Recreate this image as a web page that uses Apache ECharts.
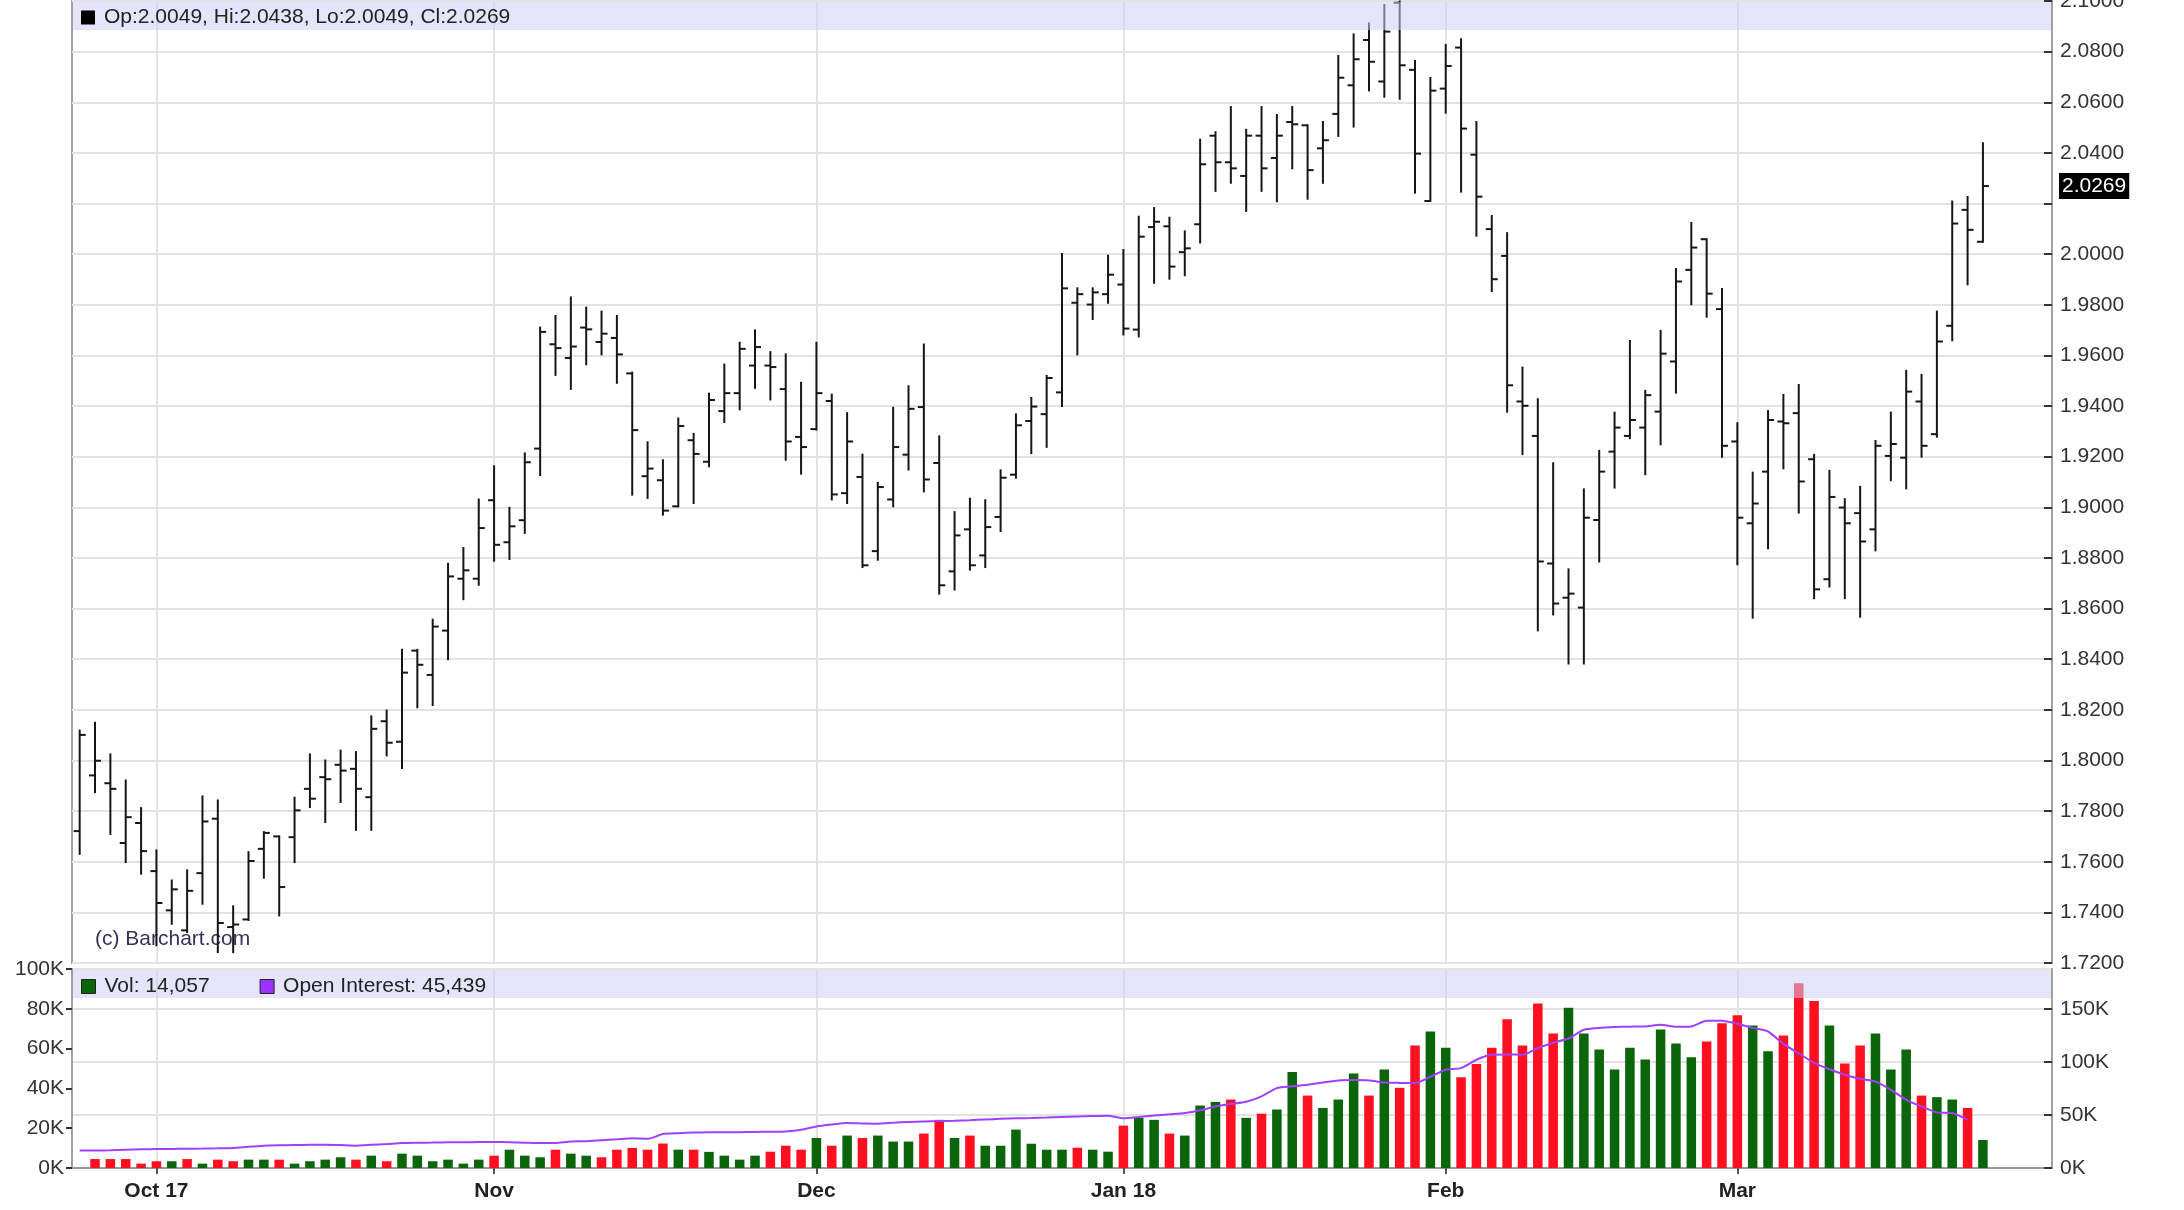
<!DOCTYPE html>
<html>
<head>
<meta charset="utf-8">
<script src="https://cdn.jsdelivr.net/npm/echarts/dist/echarts.min.js"></script>
<style>
html,body{margin:0;padding:0;background:#fff;}
#chart{width:2184px;height:1210px;}
</style>
</head>
<body>
<div id="chart"></div>
<script>
const dates = [
'2017-09-25','2017-09-26','2017-09-27','2017-09-28','2017-09-29',
'2017-10-02','2017-10-03','2017-10-04','2017-10-05','2017-10-06','2017-10-09','2017-10-10','2017-10-11','2017-10-12','2017-10-13',
'2017-10-16','2017-10-17','2017-10-18','2017-10-19','2017-10-20','2017-10-23','2017-10-24','2017-10-25','2017-10-26','2017-10-27','2017-10-30','2017-10-31',
'2017-11-01','2017-11-02','2017-11-03','2017-11-06','2017-11-07','2017-11-08','2017-11-09','2017-11-10','2017-11-13','2017-11-14','2017-11-15',
'2017-11-16','2017-11-17','2017-11-20','2017-11-21','2017-11-22','2017-11-24','2017-11-27','2017-11-28','2017-11-29','2017-11-30',
'2017-12-01','2017-12-04','2017-12-05','2017-12-06','2017-12-07','2017-12-08','2017-12-11','2017-12-12','2017-12-13','2017-12-14','2017-12-15',
'2017-12-18','2017-12-19','2017-12-20','2017-12-21','2017-12-22','2017-12-26','2017-12-27','2017-12-28','2017-12-29',
'2018-01-02','2018-01-03','2018-01-04','2018-01-05','2018-01-08','2018-01-09','2018-01-10','2018-01-11','2018-01-12','2018-01-16','2018-01-17',
'2018-01-18','2018-01-19','2018-01-22','2018-01-23','2018-01-24','2018-01-25','2018-01-26','2018-01-29','2018-01-30','2018-01-31',
'2018-02-01','2018-02-02','2018-02-05','2018-02-06','2018-02-07','2018-02-08','2018-02-09','2018-02-12','2018-02-13','2018-02-14','2018-02-15',
'2018-02-16','2018-02-20','2018-02-21','2018-02-22','2018-02-23','2018-02-26','2018-02-27','2018-02-28',
'2018-03-01','2018-03-02','2018-03-05','2018-03-06','2018-03-07','2018-03-08','2018-03-09','2018-03-12','2018-03-13','2018-03-14','2018-03-15',
'2018-03-16','2018-03-19','2018-03-20','2018-03-21','2018-03-22','2018-03-23',
'2018-03-26','2018-03-27','2018-03-28','2018-03-29'
];

const tickDates  = ['2017-10-02','2017-11-01','2017-12-01','2018-01-02','2018-02-01','2018-03-01'];
const tickLabels = ['Oct 17','Nov','Dec','Jan 18','Feb','Mar'];

const open = [
1.7721,1.7941,1.7910,1.7674,1.7753,1.7563,1.7408,1.7329,1.7555,1.7770,
1.7342,1.7372,1.7651,1.7700,1.7697,1.7888,1.7934,1.7983,1.7967,1.7855,
1.8155,1.8074,1.8434,1.8338,1.8513,1.8718,1.8718,1.9028,1.8862,1.8949,
1.9232,1.9644,1.9590,1.9710,1.9653,1.9669,1.9529,1.9123,1.9107,1.9004,
1.9265,1.9180,1.9380,1.9451,1.9560,1.9560,1.9467,1.9278,1.9309,1.9420,
1.9056,1.9120,1.8827,1.9031,1.9208,1.9396,1.9175,1.8747,1.8913,1.8810,
1.8962,1.9129,1.9341,1.9368,1.9454,1.9808,1.9801,1.9842,1.9880,1.9702,
2.0107,2.0110,2.0008,2.0118,2.0468,2.0363,2.0309,2.0468,2.0380,2.0522,
2.0509,2.0418,2.0554,2.0667,2.0846,2.0682,2.0993,2.0728,2.0210,2.0654,
2.0816,2.0393,2.0099,1.9993,1.9418,1.9282,1.8778,1.8643,1.8604,1.8950,
1.9220,1.9282,1.9315,1.9378,1.9576,1.9938,2.0059,1.9783,1.9260,1.8937,
1.9141,1.9339,1.9372,1.9190,1.8716,1.8999,1.8977,1.8913,1.9203,1.9196,
1.9418,1.9289,1.9717,2.0175,2.0049
];
const high = [
1.8118,1.8149,1.8024,1.7921,1.7812,1.7645,1.7526,1.7566,1.7858,1.7842,
1.7424,1.7638,1.7717,1.7700,1.7853,1.8024,1.8000,1.8039,1.8033,1.8174,
1.8197,1.8437,1.8437,1.8556,1.8777,1.8839,1.9031,1.9162,1.8998,1.9213,
1.9710,1.9756,1.9829,1.9789,1.9773,1.9756,1.9532,1.9257,1.9186,1.9351,
1.9290,1.9449,1.9564,1.9650,1.9699,1.9613,1.9604,1.9492,1.9650,1.9445,
1.9372,1.9208,1.9097,1.9393,1.9478,1.9643,1.9280,1.8981,1.9034,1.9028,
1.9146,1.9367,1.9432,1.9519,2.0001,1.9865,1.9865,1.9994,2.0016,2.0148,
2.0182,2.0144,2.0090,2.0452,2.0482,2.0581,2.0491,2.0581,2.0550,2.0581,
2.0509,2.0522,2.0783,2.0868,2.0911,2.0984,2.0998,2.0763,2.0696,2.0826,
2.0849,2.0522,2.0151,2.0083,1.9552,1.9427,1.9174,1.8755,1.9071,1.9223,
1.9374,1.9657,1.9460,1.9697,1.9941,2.0123,2.0059,1.9862,1.9332,1.9137,
1.9380,1.9444,1.9483,1.9207,1.9144,1.9032,1.9081,1.9262,1.9374,1.9539,
1.9523,1.9773,2.0208,2.0226,2.0438
];
const low = [
1.7631,1.7875,1.7710,1.7599,1.7553,1.7270,1.7355,1.7322,1.7434,1.7243,
1.7243,1.7370,1.7537,1.7388,1.7599,1.7816,1.7757,1.7836,1.7726,1.7726,
1.8020,1.7970,1.8210,1.8219,1.8400,1.8637,1.8694,1.8789,1.8796,1.8899,
1.9127,1.9523,1.9468,1.9565,1.9604,1.9492,1.9050,1.9037,1.8971,1.9004,
1.9017,1.9162,1.9337,1.9387,1.9472,1.9426,1.9188,1.9133,1.9307,1.9031,
1.9017,1.8764,1.8793,1.9004,1.9149,1.9063,1.8659,1.8675,1.8754,1.8764,
1.8906,1.9117,1.9214,1.9239,1.9400,1.9604,1.9744,1.9808,1.9683,1.9675,
1.9887,1.9903,1.9917,2.0046,2.0250,2.0282,2.0171,2.0250,2.0209,2.0339,
2.0219,2.0282,2.0467,2.0504,2.0647,2.0622,2.0614,2.0243,2.0210,2.0559,
2.0247,2.0073,1.9854,1.9378,1.9210,1.8514,1.8577,1.8383,1.8383,1.8786,
1.9078,1.9273,1.9131,1.9249,1.9453,1.9802,1.9753,1.9200,1.8775,1.8564,
1.8838,1.9154,1.8979,1.8641,1.8687,1.8641,1.8568,1.8830,1.9107,1.9075,
1.9200,1.9279,1.9660,1.9881,2.0049
];
const close = [
1.8101,1.7999,1.7888,1.7776,1.7642,1.7437,1.7491,1.7485,1.7759,1.7358,
1.7352,1.7603,1.7714,1.7500,1.7803,1.7849,1.7926,1.7960,1.7888,1.8125,
1.8070,1.8347,1.8378,1.8529,1.8727,1.8751,1.8918,1.8852,1.8925,1.9178,
1.9693,1.9629,1.9635,1.9703,1.9686,1.9604,1.9305,1.9153,1.8987,1.9321,
1.9211,1.9424,1.9451,1.9626,1.9633,1.9554,1.9260,1.9238,1.9451,1.9051,
1.9260,1.8771,1.9080,1.9238,1.9389,1.9110,1.8692,1.8889,1.8771,1.8922,
1.9117,1.9324,1.9398,1.9511,1.9865,1.9842,1.9849,1.9919,1.9706,2.0069,
2.0128,1.9951,2.0023,2.0355,2.0363,2.0339,2.0468,2.0339,2.0468,2.0513,
2.0332,2.0450,2.0697,2.0770,2.0760,2.0879,2.0746,2.0397,2.0646,2.0743,
2.0496,2.0227,1.9901,1.9482,1.9401,1.8786,1.8620,1.8659,1.8959,1.9141,
1.9315,1.9345,1.9443,1.9607,1.9892,2.0026,1.9844,1.9243,1.8959,1.9015,
1.9345,1.9332,1.9102,1.8676,1.9041,1.8937,1.8865,1.9243,1.9250,1.9457,
1.9243,1.9655,2.0121,2.0096,2.0269
];

// volume, thousands of contracts
const volume = [
null,4.5,4.5,4.5,2.2,3.4,3.4,4.5,2.2,4.2,
3.4,4.2,4.2,4.2,2.2,3.4,4.2,5.4,4.2,6.2,
3.4,7.2,6.2,3.4,4.2,2.2,4.2,6.2,9.2,6.2,
5.4,9.2,7.2,6.2,5.4,9.2,10.1,9.2,12.3,9.2,
9.2,8.1,6.2,4.2,6.2,8.2,11.2,9.2,15.1,11.2,
16.3,15.1,16.3,13.3,13.3,17.3,24.2,15.1,16.3,11.2,
11.2,19.3,12.2,9.2,9.2,10.2,9.2,8.2,21.3,25.2,
24.2,17.3,16.3,31.4,33.2,34.4,25.2,27.3,29.4,48.3,
36.4,30.2,34.4,47.5,36.4,49.5,40.3,61.6,68.6,60.4,
45.6,52.3,60.4,74.7,61.6,82.7,67.6,80.5,67.6,59.6,
49.5,60.4,54.5,69.6,62.6,55.7,63.6,72.7,76.7,71.6,
58.7,66.6,92.8,83.9,71.6,52.5,61.6,67.6,49.5,59.6,
36.4,35.6,34.4,30.2,14.057
];

// open interest, thousands of contracts
const openInterest = [
16.6,16.5,16.7,17.2,17.6,17.9,18.0,18.2,18.3,18.5,
18.8,20.0,21.0,21.4,21.6,21.8,22.0,21.6,21.0,21.8,
22.6,23.5,23.8,24.0,24.2,24.3,24.4,24.5,24.3,23.9,
23.5,23.6,25.0,25.3,26.2,27.0,28.0,27.5,32.0,32.8,
33.4,33.6,33.7,33.8,34.0,34.2,34.5,36.0,39.2,41.0,
42.4,42.0,41.7,42.6,43.4,43.9,44.2,44.6,45.1,45.7,
46.3,46.8,47.1,47.5,48.1,48.6,49.0,49.3,46.8,48.0,
49.4,50.6,51.8,54.4,58.0,60.3,62.4,67.5,75.3,77.0,
78.4,80.5,82.5,82.8,82.5,80.6,80.2,80.0,86.0,92.6,
94.1,102.0,106.7,107.0,106.7,113.0,118.0,122.0,130.2,132.0,
132.8,133.2,133.4,135.0,133.0,133.4,138.7,138.7,135.9,132.0,
128.6,117.0,108.0,99.0,93.0,87.9,84.0,81.6,73.7,64.3,
58.0,52.4,51.8,45.439
];

const UP = '#0b650b', DOWN = '#ff1020', OI_COLOR = '#a040ff';
const FONT = 'Liberation Sans';

const ohlc = open.map((o, i) => [i, o, high[i], low[i], close[i]]);
const last = close.length - 1;
const lastClose = close[last];
const fmtK = v => Math.round(v * 1000).toLocaleString('en-US');
const isMonthStart = (idx, value) => tickDates.indexOf(value) >= 0;

function renderOHLC(params, api) {
  const x = api.value(0);
  const pO = api.coord([x, api.value(1)]);
  const pH = api.coord([x, api.value(2)]);
  const pL = api.coord([x, api.value(3)]);
  const pC = api.coord([x, api.value(4)]);
  const t = 6;
  const st = { stroke: '#161616', lineWidth: 2 };
  return {
    type: 'group',
    children: [
      { type: 'line', shape: { x1: pH[0], y1: pH[1] - 1, x2: pL[0], y2: pL[1] + 1 }, style: st },
      { type: 'line', shape: { x1: pO[0] - t, y1: pO[1], x2: pO[0], y2: pO[1] }, style: st },
      { type: 'line', shape: { x1: pC[0], y1: pC[1], x2: pC[0] + t, y2: pC[1] }, style: st }
    ]
  };
}

const chart = echarts.init(document.getElementById('chart'), null, { renderer: 'canvas' });

const axisLabelStyle = { fontFamily: FONT, fontSize: 21, color: '#333' };

chart.setOption({
  animation: false,
  backgroundColor: '#fff',
  textStyle: { fontFamily: FONT },
  grid: [
    { left: 72, right: 132, top: 1, height: 962, show: true, borderColor: '#a0a0a0', borderWidth: 2, backgroundColor: '#fff', outerBoundsMode: 'none', containLabel: false },
    { left: 72, right: 132, top: 969, height: 199, show: true, borderColor: '#a0a0a0', borderWidth: 2, backgroundColor: '#fff', outerBoundsMode: 'none', containLabel: false }
  ],
  xAxis: [
    {
      type: 'category', gridIndex: 0, data: dates, boundaryGap: true,
      axisLine: { show: false }, axisTick: { show: false }, axisLabel: { show: false },
      splitLine: { show: true, interval: isMonthStart, alignWithLabel: true, lineStyle: { color: '#e3e3e3', width: 2 } }
    },
    {
      type: 'category', gridIndex: 1, data: dates, boundaryGap: true,
      axisLine: { show: true, lineStyle: { color: '#9a9a9a', width: 2 } },
      axisTick: { show: true, interval: isMonthStart, alignWithLabel: true, length: 6, lineStyle: { color: '#555', width: 2 } },
      axisLabel: {
        interval: isMonthStart, margin: 13,
        formatter: v => { const k = tickDates.indexOf(v); return k >= 0 ? tickLabels[k] : ''; },
        fontFamily: FONT, fontSize: 21, fontWeight: 'bold', color: '#222'
      },
      splitLine: { show: true, interval: isMonthStart, alignWithLabel: true, lineStyle: { color: '#e3e3e3', width: 2 } }
    }
  ],
  yAxis: [
    {
      type: 'value', gridIndex: 0, position: 'right', min: 1.72, max: 2.10, interval: 0.02,
      axisLine: { show: true, lineStyle: { color: '#a0a0a0', width: 2 } },
      axisTick: { show: true, inside: true, length: 8, lineStyle: { color: '#333', width: 2 } },
      axisLabel: { ...axisLabelStyle, margin: 8,
        formatter: v => Math.abs(v - lastClose) < 0.012 ? '' : v.toFixed(4) },
      splitLine: { show: true, lineStyle: { color: '#e3e3e3', width: 2 } }
    },
    {
      type: 'value', gridIndex: 1, position: 'left', min: 0, max: 100, interval: 20,
      axisLine: { show: true, lineStyle: { color: '#a0a0a0', width: 2 } },
      axisTick: { show: true, inside: false, length: 6, lineStyle: { color: '#333', width: 2 } },
      axisLabel: { ...axisLabelStyle, margin: 8, formatter: v => v + 'K' },
      splitLine: { show: false }
    },
    {
      type: 'value', gridIndex: 1, position: 'right', min: 0, max: 187.5, interval: 50,
      axisLine: { show: true, lineStyle: { color: '#a0a0a0', width: 2 } },
      axisTick: { show: true, inside: true, length: 8, lineStyle: { color: '#333', width: 2 } },
      axisLabel: { ...axisLabelStyle, margin: 8, showMaxLabel: false, formatter: v => v + 'K' },
      splitLine: { show: true, lineStyle: { color: '#e3e3e3', width: 2 } }
    },
    {
      // last-price flag on the price scale
      type: 'value', gridIndex: 0, position: 'right', min: 1.72, max: 2.10, z: 5,
      axisLine: { show: false }, axisTick: { show: false }, splitLine: { show: false },
      axisLabel: {
        customValues: [lastClose], margin: 7,
        formatter: v => v.toFixed(4),
        backgroundColor: '#000', color: '#fff', padding: [3, 3, 2, 3],
        fontFamily: FONT, fontSize: 21
      }
    }
  ],
  legend: [
    {
      left: 81, top: 7, padding: 0, selectedMode: false, icon: 'rect', itemWidth: 14, itemHeight: 14,
      data: [{ name: 'OHLC', itemStyle: { color: '#000' } }],
      formatter: () => 'Op:' + open[last].toFixed(4) + ', Hi:' + high[last].toFixed(4) +
                       ', Lo:' + low[last].toFixed(4) + ', Cl:' + close[last].toFixed(4),
      textStyle: { fontFamily: FONT, fontSize: 21, color: '#222', padding: [0, 0, 0, 4] }
    },
    {
      left: 81, top: 976, padding: 0, selectedMode: false, icon: 'rect', itemWidth: 14, itemHeight: 14, itemGap: 50,
      data: [
        { name: 'Vol', itemStyle: { color: UP, borderColor: '#222', borderWidth: 1 } },
        { name: 'Open Interest', itemStyle: { color: '#9933ff', borderColor: '#222', borderWidth: 1 } }
      ],
      formatter: n => n === 'Vol' ? 'Vol: ' + fmtK(volume[last]) : 'Open Interest: ' + fmtK(openInterest[openInterest.length - 1]),
      textStyle: { fontFamily: FONT, fontSize: 21, color: '#222', padding: [0, 0, 0, 4] }
    }
  ],
  graphic: [
    { type: 'rect', silent: true, z: 3, shape: { x: 73, y: 2, width: 1978, height: 28 }, style: { fill: 'rgba(205,205,246,0.54)' } },
    { type: 'rect', silent: true, z: 3, shape: { x: 73, y: 970, width: 1978, height: 28 }, style: { fill: 'rgba(205,205,246,0.54)' } },
    { type: 'text', silent: true, z: 1, left: 95, top: 929, style: { text: '(c) Barchart.com', font: '21px "Liberation Sans"', fill: '#34345a' } }
  ],
  series: [
    {
      name: 'OHLC', type: 'custom', xAxisIndex: 0, yAxisIndex: 0, z: 2,
      renderItem: renderOHLC,
      encode: { x: 0, y: [1, 2, 3, 4] },
      data: ohlc
    },
    {
      name: 'Vol', type: 'bar', xAxisIndex: 1, yAxisIndex: 1, z: 2,
      barWidth: '62%',
      data: volume,
      itemStyle: { color: p => (p.dataIndex > 0 && close[p.dataIndex] < close[p.dataIndex - 1]) ? DOWN : UP }
    },
    {
      name: 'Open Interest', type: 'line', xAxisIndex: 1, yAxisIndex: 2, z: 2,
      data: openInterest, showSymbol: false, smooth: 0.2,
      lineStyle: { color: OI_COLOR, width: 2 }, itemStyle: { color: OI_COLOR }
    }
  ]
});
</script>
</body>
</html>
